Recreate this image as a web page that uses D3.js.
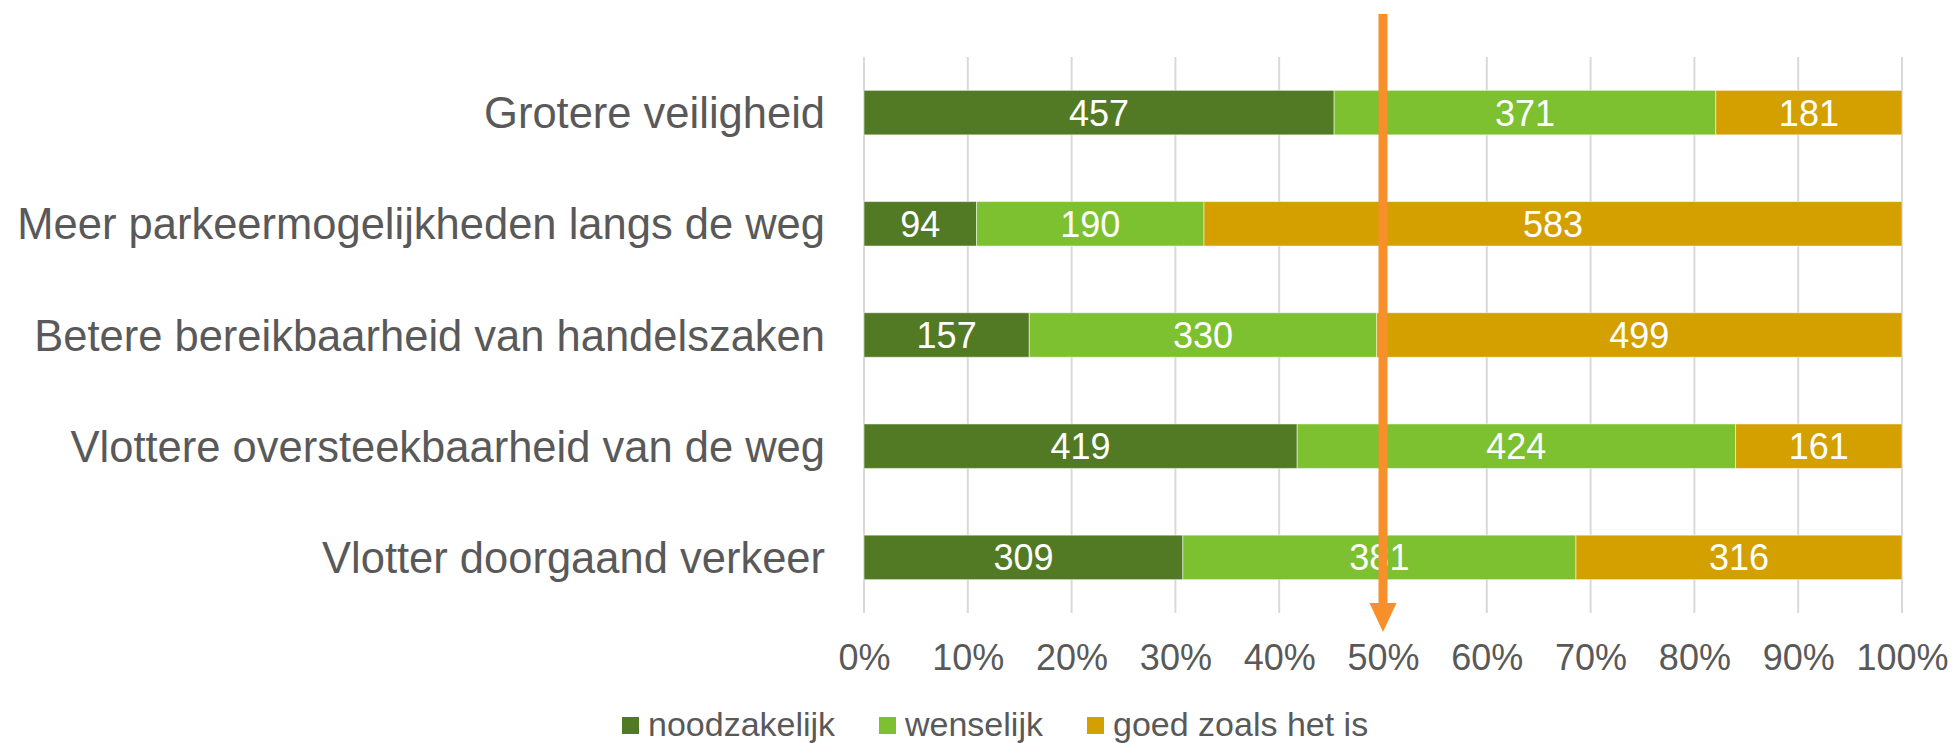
<html>
<style>
  body { margin: 0; background: #fff; }
  text { font-family: "Liberation Sans", Arial, sans-serif; }
</style>
<body>
  <svg id="chart"></svg>
</body>
</html>
<script src="https://d3js.org/d3.v7.min.js"></script>
<script type="text/javascript">
  // categories, top to bottom
  var categories = [
    "Grotere veiligheid",
    "Meer parkeermogelijkheden langs de weg",
    "Betere bereikbaarheid van handelszaken",
    "Vlottere oversteekbaarheid van de weg",
    "Vlotter doorgaand verkeer"
  ];
  var seriesNames = ["noodzakelijk", "wenselijk", "goed zoals het is"];
  var noodzakelijk = [457, 94, 157, 419, 309];
  var wenselijk = [371, 190, 330, 424, 381];
  var goed = [181, 583, 499, 161, 316];
  var tickValues = [0, 0.1, 0.2, 0.3, 0.4, 0.5, 0.6, 0.7, 0.8, 0.9, 1];
  var markerAt = 0.5;

  var colors = ["#527a24", "#7dc131", "#d3a000"];

  var W = 1953, H = 743;
  var svg = d3.select("#chart").attr("width", W).attr("height", H);

  var x = d3.scaleLinear().domain([0, 1]).range([864, 1902]);
  var y = d3.scaleBand().domain(categories).range([57, 613]).paddingInner(0.6).paddingOuter(0.3);

  // build stacked rows (shares of total)
  var rows = categories.map(function(c, i) {
    return { cat: c, vals: [noodzakelijk[i], wenselijk[i], goed[i]] };
  });
  var stack = d3.stack().keys([0, 1, 2]).offset(d3.stackOffsetExpand)
    .value(function(d, k) { return d.vals[k]; });
  var layers = stack(rows);

  // gridlines
  svg.append("g").selectAll("line")
    .data(tickValues).enter().append("line")
    .attr("x1", function(d) { return x(d); })
    .attr("x2", function(d) { return x(d); })
    .attr("y1", 57).attr("y2", 613)
    .attr("stroke", "#d9d9d9").attr("stroke-width", 2);

  // bars
  var layer = svg.append("g").selectAll("g")
    .data(layers).enter().append("g")
    .attr("fill", function(d, i) { return colors[i]; });

  layer.selectAll("rect")
    .data(function(d) { return d; })
    .enter().append("rect")
    .attr("x", function(d) { return x(d[0]); })
    .attr("width", function(d) { return x(d[1]) - x(d[0]); })
    .attr("y", function(d) { return y(d.data.cat); })
    .attr("height", y.bandwidth())
    .attr("stroke", "#fff").attr("stroke-opacity", 0.5).attr("stroke-width", 1);

  layer.each(function(L, k) {
    d3.select(this).selectAll("text")
      .data(L).enter().append("text")
      .attr("x", function(d) { return (x(d[0]) + x(d[1])) / 2; })
      .attr("y", function(d) { return y(d.data.cat) + y.bandwidth() / 2; })
      .attr("dy", "0.36em")
      .attr("text-anchor", "middle")
      .attr("fill", "#fff")
      .attr("font-size", 36)
      .text(function(d) { return d.data.vals[k]; });
  });

  // category labels
  svg.append("g").selectAll("text")
    .data(categories).enter().append("text")
    .attr("x", 825)
    .attr("y", function(d) { return y(d) + y.bandwidth() / 2; })
    .attr("dy", "0.36em")
    .attr("text-anchor", "end")
    .attr("fill", "#595959")
    .attr("font-size", 43.5)
    .text(function(d) { return d; });

  // x axis tick labels
  var xAxis = d3.axisBottom(x).tickValues(tickValues).tickSize(0).tickPadding(0)
    .tickFormat(d3.format(".0%"));
  var ax = svg.append("g").attr("transform", "translate(0,657)").call(xAxis);
  ax.select(".domain").remove();
  ax.selectAll("text")
    .attr("y", 0).attr("dy", "0.36em")
    .attr("fill", "#595959")
    .attr("font-size", 36)
    .attr("font-family", "Liberation Sans, Arial, sans-serif");

  // orange arrow at 50%
  var ax0 = x(markerAt);
  svg.append("line")
    .attr("x1", ax0).attr("x2", ax0)
    .attr("y1", 14).attr("y2", 606)
    .attr("stroke", "#f7902a").attr("stroke-width", 9);
  svg.append("path")
    .attr("d", "M" + (ax0 - 13.5) + ",603 L" + (ax0 + 13.5) + ",603 L" + ax0 + ",632 Z")
    .attr("fill", "#f7902a");

  // legend
  var legendX = [622, 879, 1087];
  var lg = svg.append("g").selectAll("g")
    .data(seriesNames).enter().append("g")
    .attr("transform", function(d, i) { return "translate(" + legendX[i] + ",0)"; });
  lg.append("rect")
    .attr("x", 0).attr("y", 717).attr("width", 17).attr("height", 17)
    .attr("fill", function(d, i) { return colors[i]; });
  lg.append("text")
    .attr("x", 26).attr("y", 736)
    .attr("fill", "#595959")
    .attr("font-size", 34)
    .text(function(d) { return d; });
</script>
